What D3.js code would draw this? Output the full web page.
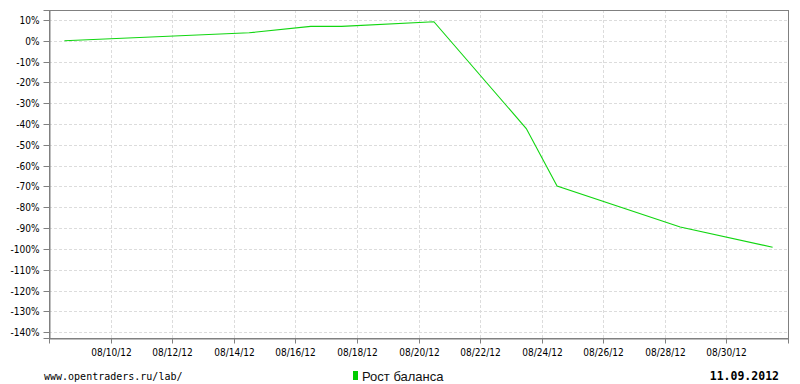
<!DOCTYPE html>
<html>
<head>
<meta charset="utf-8">
<script src="https://cdn.jsdelivr.net/npm/d3@7"></script>
<style>
  body { margin: 0; background: #fff; }
  svg { display: block; }
  .tick text { font-family: "DejaVu Sans Condensed", "DejaVu Sans", sans-serif; font-size: 10px; fill: #000; }
</style>
</head>
<body>
<svg width="800" height="384"></svg>
<script>
// balance growth, % (one point per day at noon)
var dates = ["2012-08-08T12:00", "2012-08-14T12:00", "2012-08-16T12:00", "2012-08-17T12:00",
             "2012-08-20T12:00", "2012-08-23T12:00", "2012-08-24T12:00", "2012-08-28T12:00",
             "2012-08-31T12:00"];
var growth = [0, 3.8, 6.9, 6.9, 9.1, -42.2, -69.8, -89.5, -99.2];

var yTicks = [10, 0, -10, -20, -30, -40, -50, -60, -70, -80, -90, -100, -110, -120, -130, -140];
var xTicks = ["2012-08-10", "2012-08-12", "2012-08-14", "2012-08-16", "2012-08-18", "2012-08-20",
              "2012-08-22", "2012-08-24", "2012-08-26", "2012-08-28", "2012-08-30"];

var legendLabel = "Рост баланса";
var siteLabel = "www.opentraders.ru/lab/";
var dateLabel = "11.09.2012";

var parse = d3.timeParse("%Y-%m-%dT%H:%M");
var parseDay = d3.timeParse("%Y-%m-%d");
var points = dates.map(function(d, i) { return { t: parse(d), v: growth[i] }; });

var svg = d3.select("svg");
var plotLeft = 49, plotRight = 788, plotTop = 10, plotBottom = 338;

var x = d3.scaleTime()
  .domain([parseDay("2012-08-08"), parseDay("2012-09-01")])
  .range([plotLeft, plotRight]);

var y = d3.scaleLinear()
  .domain([14.75, -142.8])
  .range([plotTop, plotBottom]);

// grid
var grid = svg.append("g");
grid.selectAll(".hg").data(yTicks).enter().append("line")
  .attr("x1", plotLeft).attr("x2", plotRight)
  .attr("y1", function(d) { return Math.round(y(d)) + 0.5; })
  .attr("y2", function(d) { return Math.round(y(d)) + 0.5; })
  .attr("stroke", "#dcdcdc").attr("stroke-dasharray", "3,2");
grid.selectAll(".vg").data(xTicks).enter().append("line")
  .attr("y1", plotTop).attr("y2", plotBottom)
  .attr("x1", function(d) { return Math.round(x(parseDay(d))) + 0.5; })
  .attr("x2", function(d) { return Math.round(x(parseDay(d))) + 0.5; })
  .attr("stroke", "#dcdcdc").attr("stroke-dasharray", "3,2");

// frame
svg.append("rect")
  .attr("x", plotLeft + 0.5).attr("y", plotTop + 0.5)
  .attr("width", plotRight - plotLeft).attr("height", plotBottom - plotTop)
  .attr("fill", "none").attr("stroke", "#808080");

// axes
var yAxis = d3.axisLeft(y)
  .tickValues(yTicks)
  .tickSize(6)
  .tickPadding(4)
  .tickFormat(function(d) { return d + "%"; });

var xAxis = d3.axisBottom(x)
  .tickValues(xTicks.map(parseDay))
  .tickSize(5)
  .tickPadding(5)
  .tickFormat(d3.timeFormat("%m/%d/%y"));

var gy = svg.append("g").attr("transform", "translate(" + (plotLeft + 0.5) + ",0)").call(yAxis);
var gx = svg.append("g").attr("transform", "translate(0," + (plotBottom + 0.5) + ")").call(xAxis);
[gx, gy].forEach(function(g) {
  g.select(".domain").attr("stroke", "#808080");
  g.selectAll(".tick line").attr("stroke", "#808080");
});
gy.selectAll(".tick").attr("transform", function(d) { return "translate(0," + (Math.round(y(d)) + 0.5) + ")"; });
gx.selectAll(".tick").attr("transform", function(d) { return "translate(" + (Math.round(x(d)) + 0.5) + ",0)"; });

// line
var line = d3.line()
  .x(function(d) { return x(d.t); })
  .y(function(d) { return y(d.v); });

svg.append("path")
  .datum(points)
  .attr("d", line)
  .attr("fill", "none")
  .attr("stroke", "#11d611")
  .attr("stroke-width", 1.1);

// footer
svg.append("text")
  .attr("x", 44).attr("y", 380)
  .attr("font-family", "DejaVu Sans Mono, monospace")
  .attr("font-size", 10)
  .text(siteLabel);

svg.append("rect")
  .attr("x", 353).attr("y", 371).attr("width", 5).attr("height", 9)
  .attr("fill", "#00cc00");
svg.append("text")
  .attr("x", 362).attr("y", 381)
  .attr("font-family", "Liberation Sans, Arial, sans-serif")
  .attr("font-size", 13)
  .attr("fill", "#111")
  .text(legendLabel);

svg.append("text")
  .attr("x", 779).attr("y", 380)
  .attr("text-anchor", "end")
  .attr("font-family", "DejaVu Sans Mono, monospace")
  .attr("font-weight", "bold")
  .attr("font-size", 11.5)
  .text(dateLabel);
</script>
</body>
</html>
